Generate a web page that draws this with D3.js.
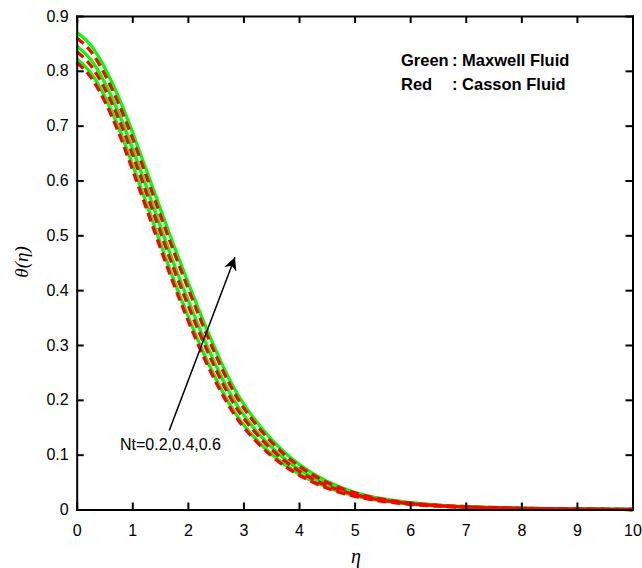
<!DOCTYPE html>
<html><head><meta charset="utf-8">
<script src="https://cdn.jsdelivr.net/npm/d3@7/dist/d3.min.js"></script>
<style>
body{margin:0;background:#fff;}
svg{display:block;}
.axis path,.axis line{stroke:#000;stroke-width:2px;}
.axis text{font-family:"Liberation Sans",Arial,sans-serif;font-size:16px;fill:#000;}
</style></head>
<body>
<svg id="chart" width="642" height="568"></svg>
<script>
// ---- data ----
const eta = [0,0.25,0.5,0.75,1.0,1.25,1.5,1.75,2.0,2.25,2.5,2.75,3.0,3.5,4.0,4.5,5.0,5.5,6.0,6.5,7.0,8.0,9.0,10.0];
// Green: Maxwell fluid, Nt = 0.6, 0.4, 0.2
const maxwellNt06 = [0.870,0.851,0.808,0.755,0.690,0.620,0.550,0.480,0.415,0.350,0.290,0.235,0.190,0.125,0.080,0.050,0.030,0.019,0.012,0.008,0.005,0.002,0.001,0.0];
const maxwellNt04 = [0.845,0.825,0.781,0.727,0.660,0.590,0.518,0.447,0.383,0.320,0.263,0.212,0.170,0.111,0.071,0.044,0.027,0.017,0.011,0.007,0.0045,0.0018,0.0008,0.0];
const maxwellNt02 = [0.822,0.801,0.756,0.700,0.630,0.560,0.487,0.417,0.353,0.292,0.238,0.191,0.152,0.098,0.063,0.039,0.024,0.015,0.0095,0.006,0.004,0.0015,0.0007,0.0];
// Red: Casson fluid, Nt = 0.6, 0.4, 0.2
const cassonNt06 = [0.860,0.840,0.796,0.743,0.679,0.609,0.538,0.469,0.404,0.340,0.281,0.227,0.183,0.120,0.077,0.048,0.029,0.018,0.0115,0.0075,0.0048,0.0019,0.0009,0.0];
const cassonNt04 = [0.835,0.814,0.770,0.716,0.649,0.579,0.507,0.437,0.373,0.311,0.255,0.205,0.164,0.107,0.068,0.042,0.026,0.016,0.0105,0.0068,0.0043,0.0017,0.0008,0.0];
const cassonNt02 = [0.815,0.793,0.747,0.691,0.621,0.551,0.478,0.409,0.345,0.285,0.232,0.186,0.148,0.095,0.061,0.038,0.023,0.0145,0.009,0.0058,0.0038,0.0014,0.0006,0.0];
const xTicks = [0,1,2,3,4,5,6,7,8,9,10];
const yTicks = [0,0.1,0.2,0.3,0.4,0.5,0.6,0.7,0.8,0.9];
const legendLines = [["Green", ": Maxwell Fluid"],["Red", ": Casson Fluid"]];
const annotationText = "Nt=0.2,0.4,0.6";
const arrowFrom = [1.665, 0.144];
const arrowTo = [2.847, 0.46];

// ---- chart ----
const svg = d3.select("#chart");
const L = 76.7, R = 632.5, T = 16, B = 509.5;
const x = d3.scaleLinear().domain([0,10]).range([L,R]);
const y = d3.scaleLinear().domain([0,0.9]).range([B,T]);

const line = d3.line().x((d,i)=>x(eta[i])).y(d=>y(d)).curve(d3.curveBasis);

const greens = [maxwellNt06, maxwellNt04, maxwellNt02];
const reds = [cassonNt06, cassonNt04, cassonNt02];

svg.append("g").selectAll("path").data(greens).join("path")
  .attr("d", line).attr("fill","none").attr("stroke","#00ff00").attr("stroke-width",3.3);
svg.append("g").selectAll("path").data(reds).join("path")
  .attr("d", line).attr("fill","none").attr("stroke","#ff0000").attr("stroke-width",3.3)
  .attr("stroke-dasharray","9,5");

// axes
const fmt = d=> d===0 ? "0" : d3.format(".1f")(d);
svg.append("g").attr("class","axis").attr("transform",`translate(0,${B})`)
  .call(d3.axisBottom(x).tickValues(xTicks).tickFormat(d3.format("d")).tickSizeInner(-7).tickSizeOuter(0).tickPadding(15));
svg.append("g").attr("class","axis").attr("transform",`translate(0,${T})`)
  .call(d3.axisTop(x).tickValues(xTicks).tickFormat("").tickSizeInner(-7).tickSizeOuter(0));
svg.append("g").attr("class","axis").attr("transform",`translate(${L},0)`)
  .call(d3.axisLeft(y).tickValues(yTicks).tickFormat(fmt).tickSizeInner(-7).tickSizeOuter(0).tickPadding(8));
svg.append("g").attr("class","axis").attr("transform",`translate(${R},0)`)
  .call(d3.axisRight(y).tickValues(yTicks).tickFormat("").tickSizeInner(-7).tickSizeOuter(0));
svg.selectAll(".axis path.domain").attr("stroke-linecap","square");

// axis titles
svg.append("text").attr("x", 356).attr("y", 563).attr("text-anchor","middle")
  .attr("font-family","'Liberation Serif','Times New Roman',serif").attr("font-style","italic").attr("font-size",20)
  .text("η");
svg.append("text").attr("transform","translate(28,262) rotate(-90)").attr("text-anchor","middle")
  .attr("font-family","'Liberation Serif','Times New Roman',serif").attr("font-style","italic").attr("font-size",19)
  .text("θ(η)");

// legend text
const lg = svg.append("g").attr("font-family","'Liberation Sans',Arial,sans-serif").attr("font-weight","bold").attr("font-size",16.5);
legendLines.forEach((ln,i)=>{
  const t = lg.append("text").attr("y", 66 + i*24);
  t.append("tspan").attr("x",401).text(ln[0]);
  t.append("tspan").attr("x",452).text(ln[1]);
});

// annotation arrow
svg.append("defs").append("marker").attr("id","ah").attr("viewBox","0 0 10 10")
  .attr("refX",10).attr("refY",5).attr("markerWidth",17).attr("markerHeight",13)
  .attr("markerUnits","userSpaceOnUse").attr("orient","auto")
  .append("path").attr("d","M0,0 L10,5 L0,10 L3,5 Z").attr("fill","#000");
svg.append("line").attr("x1",x(arrowFrom[0])).attr("y1",y(arrowFrom[1]))
  .attr("x2",x(arrowTo[0])).attr("y2",y(arrowTo[1]))
  .attr("stroke","#000").attr("stroke-width",1.5).attr("marker-end","url(#ah)");
svg.append("text").attr("x",120).attr("y",450)
  .attr("font-family","'Liberation Sans',Arial,sans-serif").attr("font-size",16).text(annotationText);
</script>
</body></html>
